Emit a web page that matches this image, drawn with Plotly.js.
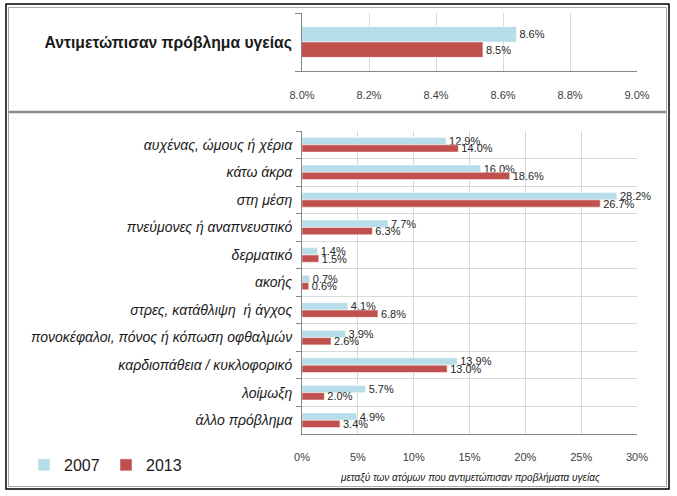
<!DOCTYPE html>
<html>
<head>
<meta charset="utf-8">
<script src="https://cdn.plot.ly/plotly-3.0.1.min.js"></script>
<style>html,body{margin:0;padding:0;background:#fff;}#chart{width:677px;height:496px;}</style>
</head>
<body>
<div id="chart"></div>
<script>
// ---- data ----
const topCategory = ["Αντιμετώπισαν πρόβλημα υγείας"];
const top2007 = [8.64];
const top2013 = [8.54];

const categories = [
  "αυχένας, ώμους ή χέρια",
  "κάτω άκρα",
  "στη μέση",
  "πνεύμονες ή αναπνευστικό",
  "δερματικό",
  "ακοής",
  "στρες, κατάθλιψη  ή άγχος",
  "πονοκέφαλοι, πόνος ή κόπωση οφθαλμών",
  "καρδιοπάθεια / κυκλοφορικό",
  "λοίμωξη",
  "άλλο πρόβλημα"
];
const values2007 = [12.9, 16.0, 28.2, 7.7, 1.4, 0.7, 4.1, 3.9, 13.9, 5.7, 4.9];
const values2013 = [14.0, 18.6, 26.7, 6.3, 1.5, 0.6, 6.8, 2.6, 13.0, 2.0, 3.4];

const seriesNames = ["2007", "2013"];
const topTicks = [8.0, 8.2, 8.4, 8.6, 8.8, 9.0];
const bottomTicks = [0, 5, 10, 15, 20, 25, 30];
const xTitle = "μεταξύ των ατόμων που αντιμετώπισαν προβλήματα υγείας";

// ---- style ----
const C2007 = "#B7DDE8", C2013 = "#C0504D";
const W = 677, H = 496;
const px = v => v / W, py = v => 1 - v / H;
const FF = "Liberation Sans, Arial, sans-serif";
const labelFont = {family: FF, size: 11, color: "#262626"};

function barTrace(cats, vals, name, color, xa, ya, showleg) {
  return {
    type: "bar", orientation: "h", y: cats, x: vals, name: name,
    marker: {color: color, line: {color: "#ffffff", width: 0.5}},
    text: vals.map(v => v.toFixed(1) + "%"),
    textposition: "outside", cliponaxis: false, constraintext: "none",
    textfont: labelFont, xaxis: xa, yaxis: ya, showlegend: showleg,
    hoverinfo: "x+y"
  };
}

const data = [
  barTrace(topCategory, top2007, seriesNames[0], C2007, "x2", "y2", false),
  barTrace(topCategory, top2013, seriesNames[1], C2013, "x2", "y2", false),
  barTrace(categories, values2007, seriesNames[0], C2007, "x", "y", true),
  barTrace(categories, values2013, seriesNames[1], C2013, "x", "y", true)
];

const xDomain = [px(302), px(637)];
const layout = {
  width: W, height: H,
  margin: {l: 0, r: 0, t: 0, b: 0},
  paper_bgcolor: "#ffffff", plot_bgcolor: "#ffffff",
  barmode: "group", bargap: 0.47, bargroupgap: 0,
  showlegend: true,
  legend: {
    orientation: "h", x: px(24), y: py(465), xanchor: "left", yanchor: "middle",
    font: {family: FF, size: 16, color: "#1a1a1a"},
    traceorder: "normal", itemwidth: 30, tracegroupgap: 0,
    entrywidth: 37, entrywidthmode: "pixels"
  },
  xaxis: {
    domain: xDomain, anchor: "y", range: [0, 30],
    tickvals: bottomTicks, ticktext: bottomTicks.map(v => v + "%"),
    showgrid: true, gridcolor: "#d9d9d9", gridwidth: 1,
    showline: true, linecolor: "#868686", linewidth: 1, mirror: false,
    zeroline: false, ticks: "outside", ticklen: 13, tickcolor: "rgba(0,0,0,0)",
    tickfont: {family: FF, size: 11, color: "#404040"},
    fixedrange: true
  },
  yaxis: {
    domain: [py(434), py(131)], anchor: "x", type: "category",
    autorange: "reversed", tickson: "boundaries",
    ticks: "outside", ticklen: 5, tickcolor: "#868686",
    showgrid: true, gridcolor: "#d9d9d9",
    showline: true, linecolor: "#868686", linewidth: 1,
    tickfont: {family: FF, size: 14, color: "#1a1a1a", style: "italic"},
    ticklabelstandoff: 6,
    fixedrange: true
  },
  xaxis2: {
    domain: xDomain, anchor: "y2", range: [8, 9],
    tickvals: topTicks, ticktext: topTicks.map(v => v.toFixed(1) + "%"),
    showgrid: true, gridcolor: "#d9d9d9",
    showline: true, linecolor: "#868686", linewidth: 1,
    zeroline: false, ticks: "outside", ticklen: 14, tickcolor: "rgba(0,0,0,0)",
    tickfont: {family: FF, size: 11, color: "#404040"},
    fixedrange: true
  },
  yaxis2: {
    domain: [py(71), py(13)], anchor: "x2", type: "category",
    autorange: "reversed",
    tickson: "boundaries", ticks: "outside", ticklen: 6, tickcolor: "#868686",
    showgrid: false,
    showline: true, linecolor: "#868686", linewidth: 1,
    tickfont: {family: FF, size: 15.7, color: "#1a1a1a", weight: "bold"},
    ticklabelstandoff: 6,
    fixedrange: true
  },
  annotations: [{
    xref: "paper", yref: "paper", x: px(470), y: py(478),
    xanchor: "center", yanchor: "middle", showarrow: false,
    text: xTitle,
    font: {family: FF, size: 10, color: "#1a1a1a", style: "italic"}
  }],
  shapes: [
    {type: "rect", xref: "paper", yref: "paper", x0: px(6), x1: px(669), y0: py(489), y1: py(4),
     line: {color: "#000000", width: 1.5}, layer: "above"},
    {type: "rect", xref: "paper", yref: "paper", x0: px(8.5), x1: px(666.5), y0: py(486.5), y1: py(7.5),
     line: {color: "#a6a6a6", width: 1}, layer: "above"},
    {type: "line", xref: "paper", yref: "paper", x0: px(8.5), x1: px(666.5), y0: py(112), y1: py(112),
     line: {color: "#8c8c8c", width: 2.5}, layer: "above"}
  ]
};

Plotly.newPlot("chart", data, layout, {displayModeBar: false, staticPlot: true});
</script>
</body>
</html>
